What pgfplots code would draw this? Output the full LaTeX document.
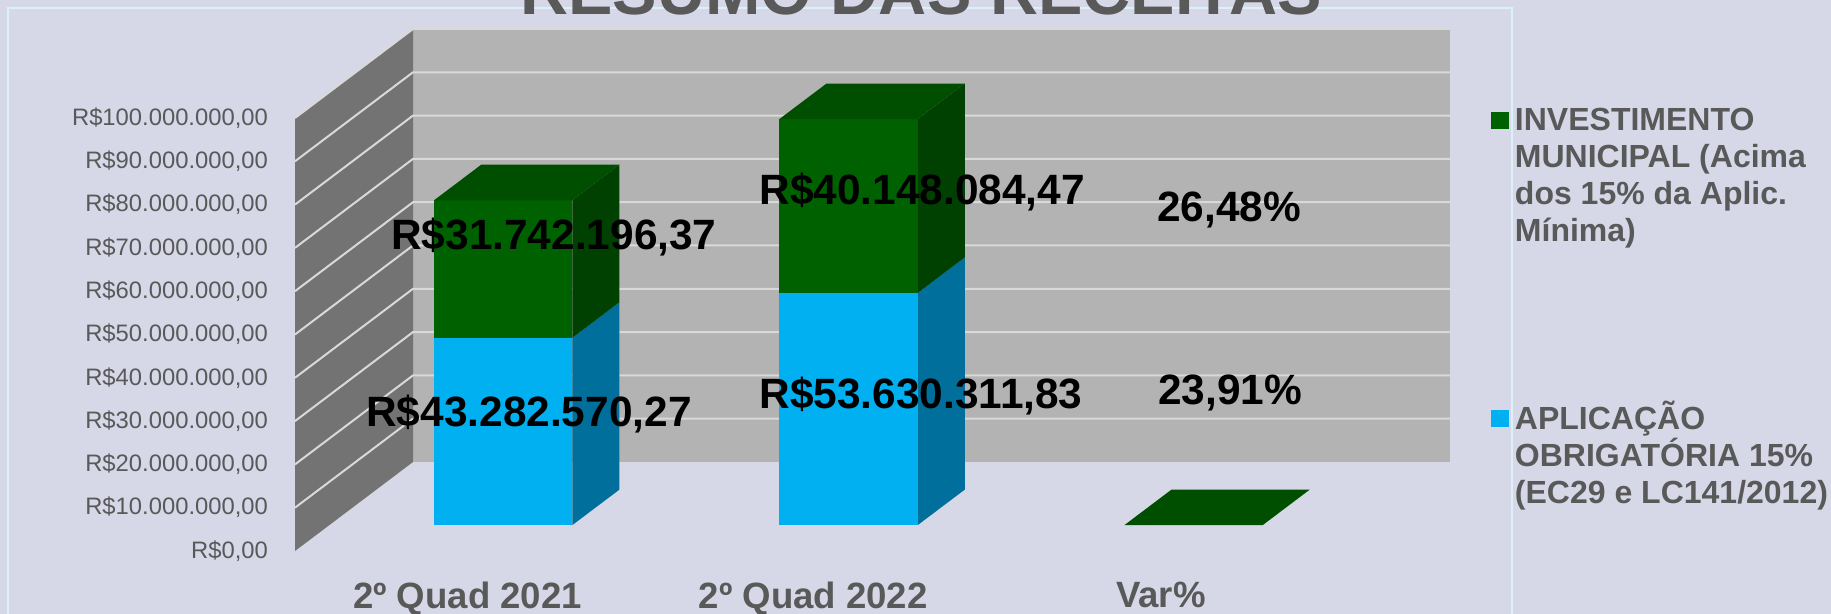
\documentclass[border=0pt]{standalone}
\usepackage{fontspec}
\setmainfont{Liberation Sans}
\usepackage{pgfplots}
\pgfplotsset{compat=1.18}

\definecolor{pagebg}{RGB}{214,216,232}
\definecolor{backwall}{RGB}{179,179,179}
\definecolor{sidewall}{RGB}{115,115,115}
\definecolor{gridc}{RGB}{217,217,217}
\definecolor{frame}{RGB}{218,241,248}
\definecolor{txt}{RGB}{89,89,89}
\definecolor{gfront}{RGB}{0,97,0}
\definecolor{gside}{RGB}{0,64,0}
\definecolor{gtop}{RGB}{0,78,0}
\definecolor{bfront}{RGB}{0,176,240}
\definecolor{bside}{RGB}{0,111,155}

% one block of a stacked bar: xleft, xright, zbottom, ztop, front colour, side colour
\newcommand{\block}[6]{%
  \addplot3[fill=#6,draw=none,forget plot] coordinates {(#2,0.29,#3)(#2,0.69,#3)(#2,0.69,#4)(#2,0.29,#4)} --cycle;
  \addplot3[fill=#5,draw=none,forget plot] coordinates {(#1,0.29,#3)(#2,0.29,#3)(#2,0.29,#4)(#1,0.29,#4)} --cycle;
}
% top of a bar
\newcommand{\blocktop}[4]{%
  \addplot3[fill=#4,draw=none,forget plot] coordinates {(#1,0.29,#3)(#2,0.29,#3)(#2,0.69,#3)(#1,0.69,#3)} --cycle;
}

\begin{document}
\begin{tikzpicture}
\path[use as bounding box,fill=pagebg] (0pt,0pt) rectangle (915.5pt,-307pt);
\draw[frame,line width=0.6pt] (4pt,-307pt) -- (4pt,-4pt) -- (756pt,-4pt) -- (756pt,-307pt);
\node[text=txt,font=\fontsize{33.3}{36}\selectfont\bfseries,anchor=base] at (460.5pt,-7.5pt) {RESUMO DAS RECEITAS};
\begin{axis}[
    at={(147.5pt,-275.5pt)},
    anchor=origin,
    x={(172.85pt,0pt)},
    y={(59pt,44.5pt)},
    z={(0pt,2.165pt)},
    xmin=0,xmax=3,ymin=0,ymax=1,zmin=0,zmax=100,
    clip=false,
    axis line style={draw=none},
    tick style={draw=none},
    grid=none,
    xtick={0.5,1.5,2.5},
    xticklabels={2º Quad 2021,2º Quad 2022,Var\%},
    ytick=\empty,
    ztick={0,10,20,30,40,50,60,70,80,90,100},
    zticklabels={{R\$0,00},{R\$10.000.000,00},{R\$20.000.000,00},{R\$30.000.000,00},{R\$40.000.000,00},{R\$50.000.000,00},{R\$60.000.000,00},{R\$70.000.000,00},{R\$80.000.000,00},{R\$90.000.000,00},{R\$100.000.000,00}},
    z tick label style={text=txt,font=\fontsize{11.9}{14}\selectfont,anchor=east,xshift=-10pt},
    x tick label style={text=txt,font=\fontsize{18.3}{21}\selectfont\bfseries,xshift=5.8pt,yshift=-12pt},
    legend cell align=left,
    legend style={at={(axis cs:3.459,0,102.3)},anchor=north west,draw=none,fill=none,
      font=\fontsize{16}{18.5}\selectfont\bfseries,text=txt,
      row sep=78pt,inner sep=0pt,
      nodes={align=left,inner sep=0pt}},
]
\addplot3[fill=backwall,draw=none,forget plot] coordinates {(0,1,0)(3,1,0)(3,1,100)(0,1,100)} --cycle;
\addplot3[fill=sidewall,draw=none,forget plot] coordinates {(0,0,0)(0,1,0)(0,1,100)(0,0,100)} --cycle;
\pgfplotsinvokeforeach{10,20,...,100}{
  \addplot3[gridc,line width=1pt,forget plot] coordinates {(3,1,#1)(0,1,#1)(0,0,#1)};
}
% 2o Quad 2021
\block{0.303}{0.703}{0}{43.28257027}{bfront}{bside}
\block{0.303}{0.703}{43.28257027}{75.02476664}{gfront}{gside}
\blocktop{0.303}{0.703}{75.02476664}{gtop}
% 2o Quad 2022
\block{1.302}{1.702}{0}{53.63031183}{bfront}{bside}
\block{1.302}{1.702}{53.63031183}{93.7783963}{gfront}{gside}
\blocktop{1.302}{1.702}{93.7783963}{gtop}
% Var%
\blocktop{2.3}{2.7}{0.005}{gtop}

\addlegendimage{legend image code/.code={\fill[gfront] (-6pt,24pt) rectangle (2.5pt,32pt);\path (5.5pt,28pt);}}
\addlegendentry{INVESTIMENTO\\MUNICIPAL (Acima\\dos 15\% da Aplic.\\Mínima)}
\addlegendimage{legend image code/.code={\fill[bfront] (-6pt,13.5pt) rectangle (2.5pt,21.5pt);\path (5.5pt,18pt);}}
\addlegendentry{APLICAÇÃO\\OBRIGATÓRIA 15\%\\(EC29 e LC141/2012)}

\tikzset{dlabel/.style={font=\fontsize{21.2}{24}\selectfont\bfseries,text=black}}
\node[dlabel] at (axis cs:0.749,0,72.45) {R\$31.742.196,37};
\node[dlabel] at (axis cs:0.677,0,31.55) {R\$43.282.570,27};
\node[dlabel] at (axis cs:1.814,0,82.85) {R\$40.148.084,47};
\node[dlabel] at (axis cs:1.811,0,35.75) {R\$53.630.311,83};
\node[dlabel] at (axis cs:2.702,0,78.85) {26,48\%};
\node[dlabel] at (axis cs:2.705,0,36.45) {23,91\%};
\end{axis}
\end{tikzpicture}
\end{document}
